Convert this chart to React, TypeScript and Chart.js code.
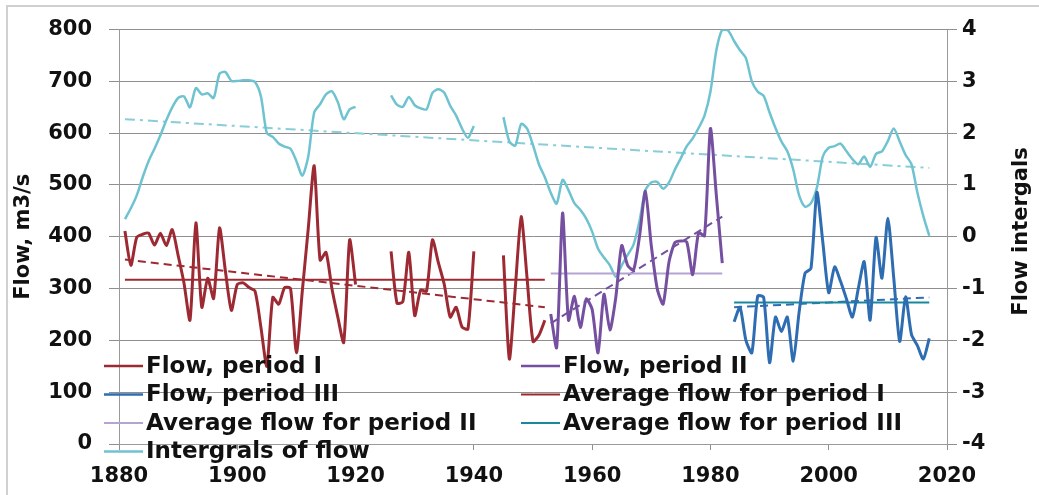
import React, { useEffect, useRef } from "react";
import { Chart, registerables } from "chart.js";

Chart.register(...registerables);

// ---------- axes ----------
const X_MIN = 1880;
const X_MAX = 2020;
const X_STEP = 20;
const Y_MIN = 0;
const Y_MAX = 800;
const Y_STEP = 100;
const Y1_MIN = -4;
const Y1_MAX = 4;
const Y1_STEP = 1;

// ---------- flow, period I (1881-1952), m3/s ----------
const FLOW_I_START = 1881;
const FLOW_I = [
  411, 345, 399, 405, 407, 384, 407, 383, 414, 364, // 1881-1890
  310, 239, 427, 264, 320, 281, 417, 333, 258, 308, // 1891-1900
  311, 302, 295, 225, 150, 283, 270, 302, 300, 176, // 1901-1910
  296, 416, 537, 355, 370, 300, 245, 196, 394, 308, // 1911-1920
  null, null, null, null, null, 372, 272, 275, 370, 248, // 1921-1930
  297, 295, 394, 350, 308, 245, 264, 226, 222, 372, // 1931-1940
  null, null, null, null, 364, 164, 300, 439, 320, 198, // 1941-1950
  210, 239, // 1951-1952
];

// ---------- flow, period II (1953-1982) ----------
const FLOW_II_START = 1953;
const FLOW_II = [
  251, 186, 446, 239, 285, 225, 280, 260, 176, 289, // 1953-1962
  220, 283, 383, 345, 336, 400, 488, 383, 300, 270, // 1963-1972
  352, 389, 392, 390, 327, 408, 402, 609, 480, 349, // 1973-1982
];

// ---------- flow, period III (1984-2017) ----------
const FLOW_III_START = 1984;
const FLOW_III = [
  236, 264, 200, 176, 286, 283, 157, 245, 217, 245, // 1984-1993
  160, 255, 330, 339, 486, 390, 292, 342, 314, 280, // 1994-2003
  245, 300, 352, 239, 399, 320, 436, 320, 198, 284, // 2004-2013
  211, 190, 164, 204, // 2014-2017
];

// ---------- integral curve of flow (right axis), 1881-2017 ----------
const INTEGRALS_START = 1881;
const INTEGRALS = [
  0.34, 0.55, 0.8, 1.15, 1.46, 1.7, 1.96, 2.25, 2.5, 2.68, // 1881-1890
  2.71, 2.5, 2.87, 2.75, 2.77, 2.68, 3.15, 3.18, 3.01, 3.01, // 1891-1900
  3.02, 3.02, 2.99, 2.71, 2.0, 1.93, 1.8, 1.74, 1.7, 1.46, // 1901-1910
  1.18, 1.55, 2.4, 2.56, 2.75, 2.81, 2.6, 2.27, 2.46, 2.51, // 1911-1920
  null, null, null, null, null, 2.73, 2.55, 2.51, 2.7, 2.54, // 1921-1930
  2.48, 2.46, 2.78, 2.85, 2.78, 2.53, 2.34, 2.09, 1.91, 2.14, // 1931-1940
  null, null, null, null, 2.31, 1.84, 1.76, 2.18, 2.09, 1.77, // 1941-1950
  1.4, 1.15, 0.85, 0.64, 1.1, 0.9, 0.65, 0.52, 0.35, 0.1, // 1951-1960
  -0.23, -0.4, -0.55, -0.77, -0.55, -0.35, -0.15, 0.3, 0.9, 1.05, // 1961-1970
  1.06, 0.93, 1.05, 1.3, 1.52, 1.75, 1.9, 2.1, 2.34, 2.8, // 1971-1980
  3.6, 4.0, 3.98, 3.78, 3.6, 3.45, 3.0, 2.8, 2.72, 2.4, // 1981-1990
  2.1, 1.84, 1.65, 1.3, 0.8, 0.58, 0.65, 0.95, 1.55, 1.72, // 1991-2000
  1.75, 1.8, 1.65, 1.5, 1.4, 1.55, 1.35, 1.6, 1.65, 1.85, // 2001-2010
  2.09, 1.84, 1.58, 1.4, 0.85, 0.4, 0.02, // 2011-2017
];

// ---------- averages and linear trends (endpoints) ----------
const PERIOD_I_YEARS = [1881, 1952];
const PERIOD_II_YEARS = [1953, 1982];
const PERIOD_III_YEARS = [1984, 2017];
const INTEGRALS_YEARS = [1881, 2017];
const AVG_I = [317, 317];
const AVG_II = [329, 329];
const AVG_III = [273, 273];
const TREND_I = [356, 264];
const TREND_II = [233, 439];
const TREND_III = [264, 283];
const TREND_INTEGRALS = [2.27, 1.33];

// ---------- texts ----------
const LABEL_FLOW_I = "Flow, period I";
const LABEL_FLOW_II = "Flow, period II";
const LABEL_FLOW_III = "Flow, period III";
const LABEL_AVG_I = "Average flow for period I";
const LABEL_AVG_II = "Average flow for period II";
const LABEL_AVG_III = "Average flow for period III";
const LABEL_INTEGRALS = "Intergrals of flow";
const TITLE_LEFT = "Flow, m3/s";
const TITLE_RIGHT = "Flow intergals";

// ---------- styles ----------
const RED = "#9d2a32";
const PURPLE = "#7550a0";
const BLUE = "#2f6db3";
const AVG_II_COLOR = "#b4a3d3";
const AVG_III_COLOR = "#18899d";
const CYAN = "#6fc3d0";
const CYAN_TREND = "#88cdd8";
const GRID = "#8f8f8f";
const AXIS = "#9a9a9a";
const TEXT = "#111111";
const FONT_FAMILY = "'DejaVu Sans', Verdana, sans-serif";
const TICK_FONT = { family: FONT_FAMILY, size: 21, weight: "bold" as const };
const LEGEND_FONT = `bold 23px ${FONT_FAMILY}`;
const TITLE_FONT = `bold 21px ${FONT_FAMILY}`;

const W = 1039;
const H = 495;
const PLOT_LEFT = 119;
const PLOT_RIGHT = 947;
const PLOT_TOP = 19;
const PLOT_BOTTOM = 444;

const LEGEND_COL_X = [104, 521];
const LEGEND_ROW_Y = [366, 394.5, 423, 451.5];
const LEGEND_SAMPLE = 39;

const series = (start: number, vals: (number | null)[]) =>
  vals.map((v, i) => ({ x: start + i, y: v }));
const segment = (years: number[], vals: number[]) =>
  years.map((yr, i) => ({ x: yr, y: vals[i] }));

const overlayPlugin = {
  id: "overlay",
  afterDatasetsDraw(chart: any) {
    const ctx = chart.ctx as CanvasRenderingContext2D;
    ctx.save();
    ctx.font = LEGEND_FONT;
    ctx.textBaseline = "middle";
    ctx.textAlign = "left";
    chart.data.datasets.forEach((d: any) => {
      if (d.legendSlot === undefined) return;
      const col = d.legendSlot % 2;
      const row = Math.floor(d.legendSlot / 2);
      const x = LEGEND_COL_X[col];
      const y = LEGEND_ROW_Y[row];
      ctx.strokeStyle = d.borderColor;
      ctx.lineWidth = Math.min(d.borderWidth, 2.5);
      ctx.setLineDash([]);
      ctx.beginPath();
      ctx.moveTo(x, y);
      ctx.lineTo(x + LEGEND_SAMPLE, y);
      ctx.stroke();
      ctx.fillStyle = TEXT;
      ctx.fillText(d.label, x + LEGEND_SAMPLE + 3, y + 1);
    });
    // right axis title, read bottom-to-top
    ctx.font = TITLE_FONT;
    ctx.textAlign = "center";
    ctx.translate(1022, (PLOT_TOP + PLOT_BOTTOM) / 2);
    ctx.rotate(-Math.PI / 2);
    ctx.fillText(TITLE_RIGHT, 0, 0);
    ctx.restore();
  },
};

export default function App() {
  const ref = useRef<HTMLCanvasElement | null>(null);

  useEffect(() => {
    if (!ref.current) return;
    const base = { pointRadius: 0, pointHoverRadius: 0, fill: false, spanGaps: false };
    const chart = new Chart(ref.current, {
      type: "line",
      data: {
        datasets: [
          { ...base, label: LABEL_FLOW_I, data: series(FLOW_I_START, FLOW_I), borderColor: RED, borderWidth: 3, tension: 0.22, yAxisID: "y", order: 1, legendSlot: 0 } as any,
          { ...base, label: LABEL_FLOW_II, data: series(FLOW_II_START, FLOW_II), borderColor: PURPLE, borderWidth: 3, tension: 0.22, yAxisID: "y", order: 1, legendSlot: 1 } as any,
          { ...base, label: LABEL_FLOW_III, data: series(FLOW_III_START, FLOW_III), borderColor: BLUE, borderWidth: 3, tension: 0.22, yAxisID: "y", order: 1, legendSlot: 2 } as any,
          { ...base, label: LABEL_AVG_I, data: segment(PERIOD_I_YEARS, AVG_I), borderColor: RED, borderWidth: 2, yAxisID: "y", order: 2, legendSlot: 3 } as any,
          { ...base, label: LABEL_AVG_II, data: segment(PERIOD_II_YEARS, AVG_II), borderColor: AVG_II_COLOR, borderWidth: 2, yAxisID: "y", order: 2, legendSlot: 4 } as any,
          { ...base, label: LABEL_AVG_III, data: segment(PERIOD_III_YEARS, AVG_III), borderColor: AVG_III_COLOR, borderWidth: 2, yAxisID: "y", order: 2, legendSlot: 5 } as any,
          { ...base, label: LABEL_INTEGRALS, data: series(INTEGRALS_START, INTEGRALS), borderColor: CYAN, borderWidth: 2.5, tension: 0.25, yAxisID: "y1", order: 4, legendSlot: 6 } as any,
          { ...base, label: "Trend I", data: segment(PERIOD_I_YEARS, TREND_I), borderColor: RED, borderWidth: 2, borderDash: [8, 5], yAxisID: "y", order: 3 } as any,
          { ...base, label: "Trend II", data: segment(PERIOD_II_YEARS, TREND_II), borderColor: PURPLE, borderWidth: 2, borderDash: [8, 5], yAxisID: "y", order: 3 } as any,
          { ...base, label: "Trend III", data: segment(PERIOD_III_YEARS, TREND_III), borderColor: BLUE, borderWidth: 2, borderDash: [8, 5], yAxisID: "y", order: 3 } as any,
          { ...base, label: "Trend integrals", data: segment(INTEGRALS_YEARS, TREND_INTEGRALS), borderColor: CYAN_TREND, borderWidth: 2, borderDash: [10, 5, 3, 5], yAxisID: "y1", order: 5 } as any,
        ],
      },
      options: {
        responsive: false,
        animation: false,
        events: [],
        layout: { padding: { top: PLOT_TOP, left: 0, right: 0, bottom: 0 } },
        plugins: { legend: { display: false }, tooltip: { enabled: false } },
        scales: {
          x: {
            type: "linear",
            min: X_MIN,
            max: X_MAX,
            ticks: { stepSize: X_STEP, color: TEXT, font: TICK_FONT, padding: 14, maxRotation: 0, callback: (v: any) => String(v) },
            grid: { drawOnChartArea: false, drawTicks: true, tickLength: 6, color: GRID },
            border: { display: true, color: AXIS },
            afterFit: (s: any) => { s.height = H - PLOT_BOTTOM; },
          },
          y: {
            position: "left",
            min: Y_MIN,
            max: Y_MAX,
            ticks: { stepSize: Y_STEP, color: TEXT, font: TICK_FONT, padding: 17 },
            grid: { color: GRID, tickLength: 10 },
            border: { display: true, color: AXIS },
            title: { display: true, text: TITLE_LEFT, color: TEXT, font: TICK_FONT, padding: { top: 11, bottom: 0 } },
            afterFit: (s: any) => { s.width = PLOT_LEFT; },
          },
          y1: {
            position: "right",
            min: Y1_MIN,
            max: Y1_MAX,
            ticks: { stepSize: Y1_STEP, color: TEXT, font: TICK_FONT, padding: 5 },
            grid: { drawOnChartArea: false, tickLength: 10, color: GRID },
            border: { display: true, color: AXIS },
            afterFit: (s: any) => { s.width = W - PLOT_RIGHT; },
          },
        },
      } as any,
      plugins: [overlayPlugin],
    });
    return () => chart.destroy();
  }, []);

  return (
    <div style={{ position: "absolute", left: 0, top: 0, width: W, height: H, background: "#fff", overflow: "hidden" }}>
      <div style={{ position: "absolute", left: 6, top: 5, width: W + 20, height: H + 20, borderLeft: "2px solid #d0d0d0", borderTop: "2px solid #d0d0d0" }} />
      <canvas ref={ref} width={W} height={H} style={{ position: "absolute", left: 0, top: 0, width: W, height: H }} />
    </div>
  );
}
